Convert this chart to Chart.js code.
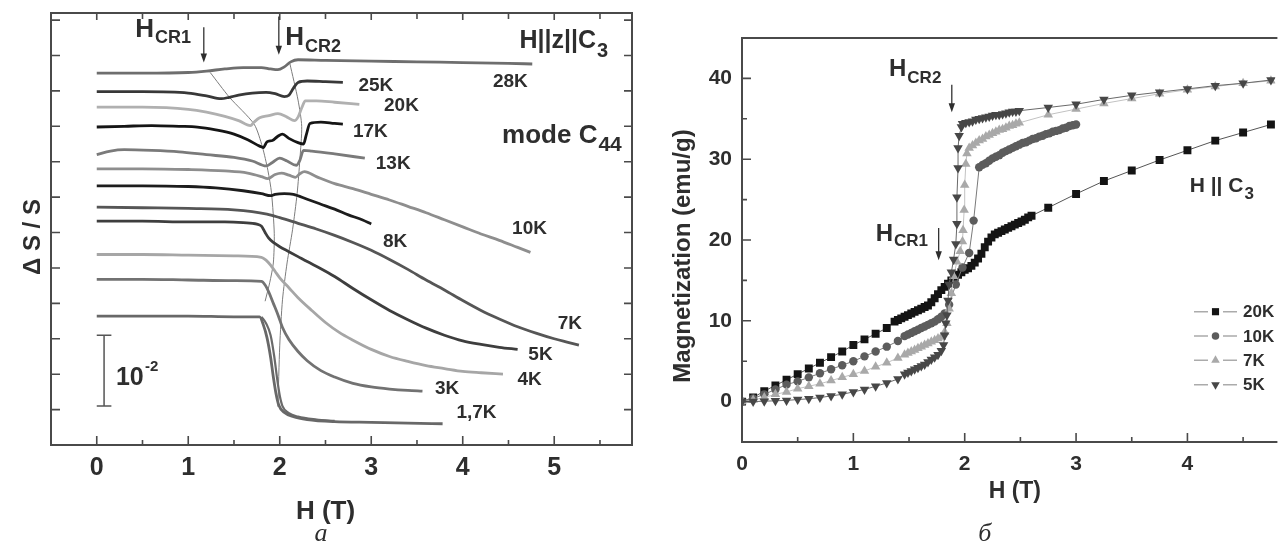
<!DOCTYPE html>
<html>
<head>
<meta charset="utf-8">
<script src="https://cdn.jsdelivr.net/npm/chart.js@4.4.1/dist/chart.umd.min.js"></script>
<style>
  html, body { margin: 0; padding: 0; background: #fff; }
  #wrap { position: relative; width: 1281px; height: 544px; overflow: hidden; }
  .panel { position: absolute; top: 0; height: 544px; }
  #pa { left: 0; width: 640px; }
  #pb { left: 640px; width: 641px; }
</style>
</head>
<body>
<div id="wrap">
  <div class="panel" id="pa"><canvas id="ca" width="640" height="544"></canvas></div>
  <div class="panel" id="pb"><canvas id="cb" width="641" height="544"></canvas></div>
</div>
<script>
// ---------- Panel (a): relative sound velocity change vs field, mode C44 ----------
// x: H (T); y: ΔS/S in units of 1e-3, curves offset vertically
const dS28K = [[0,52.5],[0.5,52.5],[1.0,52.6],[1.2,52.8],[1.4,53.1],[1.6,53.3],[1.8,53.3],[1.9,53.1],[1.98,53.0],[2.05,53.4],[2.12,54.1],[2.2,54.4],[2.5,54.3],[3.0,54.2],[3.5,54.1],[4.0,54.0],[4.5,53.9],[4.76,53.8]];
const dS25K = [[0,49.9],[0.5,49.9],[1.0,49.7],[1.2,49.3],[1.36,48.9],[1.45,49.1],[1.55,49.4],[1.7,49.7],[1.85,49.8],[1.95,49.6],[2.05,49.2],[2.1,49.4],[2.15,50.4],[2.2,51.2],[2.3,51.4],[2.5,51.3],[2.69,51.2]];
const dS20K = [[0,47.7],[0.5,47.7],[1.0,47.4],[1.2,47.0],[1.4,46.4],[1.55,45.8],[1.68,45.1],[1.72,45.6],[1.78,46.2],[1.88,46.5],[1.98,46.8],[2.08,46.3],[2.16,45.8],[2.2,46.3],[2.24,47.6],[2.28,48.6],[2.4,48.6],[2.6,48.4],[2.87,48.1]];
const dS17K = [[0,44.9],[0.3,45.0],[0.6,45.1],[0.9,45.0],[1.1,44.9],[1.3,44.5],[1.5,43.9],[1.65,43.1],[1.78,42.2],[1.82,42.0],[1.86,42.8],[1.92,43.0],[1.98,43.6],[2.03,43.9],[2.1,43.3],[2.2,42.7],[2.26,42.5],[2.29,43.8],[2.33,45.4],[2.45,45.6],[2.6,45.4],[2.69,45.3]];
const dS13K = [[0,41.0],[0.15,41.5],[0.3,41.7],[0.6,41.6],[0.9,41.4],[1.2,41.0],[1.5,40.6],[1.7,40.1],[1.85,39.4],[1.92,39.9],[2.0,40.5],[2.08,40.1],[2.18,39.5],[2.22,40.2],[2.26,41.6],[2.35,41.5],[2.6,41.1],[2.93,40.5]];
const dS10K = [[0,39.0],[0.5,39.0],[1.0,38.9],[1.4,38.7],[1.65,38.4],[1.8,37.9],[1.87,37.6],[1.95,38.2],[2.02,38.4],[2.1,38.1],[2.17,37.8],[2.22,38.3],[2.27,38.6],[2.4,37.9],[2.6,36.9],[2.8,36.2],[3.0,35.4],[3.2,34.6],[3.4,33.7],[3.6,32.8],[3.8,31.8],[4.0,30.8],[4.2,29.8],[4.4,28.9],[4.6,27.9],[4.74,27.2]];
const dS8K  = [[0,36.6],[0.5,36.6],[1.0,36.5],[1.3,36.3],[1.6,35.9],[1.8,35.5],[1.9,35.2],[1.95,35.4],[2.05,35.5],[2.15,35.4],[2.3,34.7],[2.45,34.0],[2.6,33.3],[2.75,32.5],[2.9,31.8],[3.0,31.2]];
const dS7K  = [[0,33.6],[0.5,33.5],[1.0,33.4],[1.5,33.2],[1.86,32.6],[2.0,32.1],[2.2,31.3],[2.4,30.5],[2.6,29.6],[2.8,28.6],[3.0,27.5],[3.2,26.2],[3.4,24.8],[3.6,23.3],[3.8,21.9],[4.0,20.4],[4.2,19.0],[4.4,17.8],[4.6,16.7],[4.8,15.8],[5.0,15.0],[5.15,14.5],[5.27,14.1]];
const dS5K  = [[0,31.6],[0.5,31.6],[1.0,31.5],[1.4,31.5],[1.6,31.4],[1.75,31.2],[1.8,30.9],[1.84,30.0],[1.88,29.2],[1.93,28.6],[2.0,28.0],[2.1,27.3],[2.2,26.6],[2.3,25.9],[2.45,24.9],[2.6,23.8],[2.8,22.1],[3.0,20.5],[3.2,19.0],[3.4,17.7],[3.6,16.5],[3.8,15.5],[4.0,14.7],[4.2,14.2],[4.4,13.8],[4.6,13.5]];
const dS4K  = [[0,26.9],[0.5,26.9],[1.0,26.8],[1.5,26.7],[1.8,26.5],[1.85,26.1],[1.9,25.4],[1.95,24.5],[2.0,23.6],[2.1,22.2],[2.2,20.8],[2.35,19.0],[2.5,17.3],[2.65,15.9],[2.8,14.8],[3.0,13.5],[3.2,12.5],[3.4,11.8],[3.6,11.2],[3.8,10.8],[4.0,10.4],[4.2,10.2],[4.44,10.0]];
const dS3K  = [[0,23.4],[0.5,23.4],[1.0,23.3],[1.5,23.2],[1.8,23.1],[1.84,22.6],[1.88,21.6],[1.93,20.0],[1.98,18.4],[2.03,16.6],[2.1,14.9],[2.2,13.2],[2.3,11.9],[2.45,10.5],[2.6,9.6],[2.8,8.7],[3.0,8.2],[3.2,7.9],[3.4,7.7],[3.56,7.6]];
const dS1_7K   = [[0,18.2],[0.5,18.2],[1.0,18.2],[1.5,18.1],[1.78,18.1],[1.82,17.0],[1.86,15.2],[1.9,12.4],[1.93,9.6],[1.96,7.2],[1.99,5.6],[2.05,4.6],[2.15,4.0],[2.3,3.6],[2.6,3.3],[3.0,3.2],[3.4,3.1],[3.78,3.0]];
const dS1_7Kret = [[1.8,18.1],[1.85,17.2],[1.9,15.5],[1.94,12.5],[1.97,9.5],[2.0,7.0],[2.03,5.5],[2.1,4.5],[2.2,4.0],[2.4,3.6],[2.6,3.4]];
// critical-field guide lines through the anomalies
const lineCR1 = [[1.24,52.6],[1.45,49.1],[1.72,45.3],[1.81,42.1],[1.87,38.8],[1.91,35.6],[1.94,29.9],[1.93,25.7],[1.89,22.9],[1.84,20.3]];
const lineCR2 = [[2.11,53.9],[2.2,48.7],[2.24,45.0],[2.22,40.3],[2.19,35.5],[2.14,30.4],[2.08,25.7],[2.03,20.5],[2.0,14.0],[1.98,5.4]];
const tempLabelsA = ['28K','25K','20K','17K','13K','10K','8K','7K','5K','4K','3K','1,7K'];
const fieldTicksA = [0,1,2,3,4,5];
const fieldMinorA = [0.5,1.5,2.5,3.5,4.5,5.5];
const dsTicks = [5,10,15,20,25,30,35,40,45,50,55,60];
const scaleBar = [5.5, 15.5];   // 1e-2 in ΔS/S

// ---------- Panel (б): magnetization vs field, H || C3 ----------
const m20K = [[0,0],[0.1,0.5],[0.2,1.3],[0.3,2.0],[0.4,2.7],[0.5,3.4],[0.6,4.1],[0.7,4.8],[0.8,5.5],[0.9,6.2],[1.0,7.0],[1.1,7.7],[1.2,8.4],[1.3,9.1],[1.37,9.9],[1.4,10.1],[1.43,10.3],[1.46,10.5],[1.49,10.7],[1.52,10.9],[1.55,11.1],[1.58,11.3],[1.61,11.5],[1.64,11.7],[1.67,11.9],[1.70,12.3],[1.73,12.8],[1.76,13.3],[1.79,13.8],[1.82,14.2],[1.85,14.6],[1.88,15.0],[1.91,15.4],[1.94,15.7],[1.97,16.0],[2.0,16.3],[2.03,16.5],[2.06,16.8],[2.09,17.2],[2.12,17.7],[2.15,18.3],[2.18,19.1],[2.21,19.8],[2.24,20.3],[2.27,20.7],[2.30,20.9],[2.33,21.1],[2.36,21.3],[2.39,21.5],[2.42,21.7],[2.45,21.9],[2.48,22.1],[2.51,22.3],[2.54,22.5],[2.57,22.8],[2.60,23.0],[2.75,24.0],[3.0,25.7],[3.25,27.3],[3.5,28.6],[3.75,29.9],[4.0,31.1],[4.25,32.3],[4.5,33.3],[4.75,34.3]];
const m10K = [[0,0],[0.1,0.4],[0.2,0.9],[0.3,1.5],[0.4,2.1],[0.5,2.5],[0.6,3.0],[0.7,3.5],[0.8,4.0],[0.9,4.5],[1.0,5.0],[1.1,5.6],[1.2,6.2],[1.3,6.8],[1.4,7.5],[1.46,8.1],[1.49,8.3],[1.52,8.5],[1.55,8.7],[1.58,8.9],[1.61,9.1],[1.64,9.3],[1.67,9.5],[1.70,9.7],[1.73,9.9],[1.76,10.2],[1.79,10.5],[1.82,10.9],[1.86,12.0],[1.92,14.5],[1.98,16.6],[2.04,18.4],[2.08,22.4],[2.13,29.0],[2.16,29.3],[2.19,29.5],[2.22,29.8],[2.25,30.1],[2.28,30.3],[2.31,30.5],[2.34,30.8],[2.37,31.0],[2.40,31.2],[2.43,31.4],[2.46,31.6],[2.49,31.8],[2.52,32.0],[2.55,32.1],[2.58,32.3],[2.61,32.5],[2.64,32.6],[2.67,32.8],[2.70,32.9],[2.73,33.1],[2.76,33.2],[2.79,33.4],[2.82,33.5],[2.85,33.6],[2.88,33.8],[2.91,33.9],[2.94,34.1],[2.97,34.2],[3.0,34.3]];
const m7K = [[0,0],[0.1,0.2],[0.2,0.5],[0.3,0.9],[0.4,1.2],[0.5,1.6],[0.6,1.9],[0.7,2.2],[0.8,2.6],[0.9,3.0],[1.0,3.4],[1.1,3.8],[1.2,4.3],[1.3,4.8],[1.4,5.4],[1.46,5.8],[1.49,6.0],[1.52,6.2],[1.55,6.4],[1.58,6.6],[1.61,6.8],[1.64,7.0],[1.67,7.2],[1.70,7.4],[1.73,7.6],[1.76,7.8],[1.79,8.0],[1.82,8.6],[1.84,9.7],[1.86,11.5],[1.88,13.4],[1.90,15.5],[1.93,17.3],[1.96,18.6],[1.98,19.8],[1.985,21.2],[1.995,23.7],[2.0,26.8],[2.01,29.4],[2.02,30.7],[2.04,31.4],[2.07,31.7],[2.10,32.0],[2.13,32.3],[2.16,32.5],[2.19,32.8],[2.22,33.0],[2.25,33.2],[2.28,33.4],[2.31,33.6],[2.34,33.7],[2.37,33.9],[2.40,34.1],[2.43,34.2],[2.46,34.4],[2.49,34.5],[2.75,35.5],[3.0,36.2],[3.25,36.9],[3.5,37.5],[3.75,38.1],[4.0,38.6],[4.25,39.0],[4.5,39.4],[4.75,39.7]];
const m5K = [[0,0],[0.1,0.0],[0.2,0.05],[0.3,0.1],[0.4,0.15],[0.5,0.25],[0.6,0.35],[0.7,0.5],[0.8,0.7],[0.9,0.9],[1.0,1.2],[1.1,1.5],[1.2,1.9],[1.3,2.3],[1.4,2.8],[1.46,3.4],[1.49,3.6],[1.52,3.8],[1.55,4.0],[1.58,4.2],[1.61,4.4],[1.64,4.6],[1.67,4.9],[1.70,5.2],[1.73,5.5],[1.76,5.8],[1.79,6.3],[1.81,7.0],[1.82,8.2],[1.83,9.7],[1.84,10.7],[1.85,12.5],[1.86,14.5],[1.88,16.0],[1.90,17.6],[1.92,19.5],[1.93,22.0],[1.93,25.3],[1.94,28.9],[1.94,31.4],[1.95,32.9],[1.97,34.0],[1.98,34.4],[2.01,34.5],[2.04,34.6],[2.07,34.7],[2.10,34.9],[2.13,35.0],[2.16,35.1],[2.19,35.2],[2.22,35.3],[2.25,35.4],[2.28,35.5],[2.31,35.5],[2.34,35.6],[2.37,35.7],[2.40,35.8],[2.43,35.9],[2.46,35.9],[2.49,36.0],[2.75,36.4],[3.0,36.8],[3.25,37.4],[3.5,37.9],[3.75,38.3],[4.0,38.7],[4.25,39.1],[4.5,39.4],[4.75,39.8]];
const tempLabelsB = ['20K','10K','7K','5K'];
const fieldTicksB = [0,1,2,3,4];
const fieldMinorB = [0.5,1.5,2.5,3.5,4.5];
const magTicks = [0,10,20,30,40];
const magMinor = [5,15,25,35];

// ---------- shared drawing helpers ----------
const FONT = "'Liberation Sans', Arial, Helvetica, sans-serif";
const INK = '#2e2e2e';
const FRAME = '#4a4a4a';
const xy = arr => arr.map(p => ({ x: p[0], y: p[1] }));

function text(ctx, s, x, y, px, align, base, italicSerif) {
  ctx.font = italicSerif ? `italic ${px}px 'Liberation Serif', 'DejaVu Serif', serif` : `bold ${px}px ${FONT}`;
  ctx.textAlign = align || 'left';
  ctx.textBaseline = base || 'alphabetic';
  ctx.fillText(s, x, y);
}
function subText(ctx, x, y, main, sub, mainPx, subPx, drop) {
  text(ctx, main, x, y, mainPx);
  const w = ctx.measureText(main).width;
  text(ctx, sub, x + w + 1, y + drop, subPx);
}
function arrowDown(ctx, x, y1, y2) {
  ctx.lineWidth = 1.3;
  ctx.beginPath(); ctx.moveTo(x, y1); ctx.lineTo(x, y2 - 6); ctx.stroke();
  ctx.beginPath(); ctx.moveTo(x - 3.2, y2 - 9); ctx.lineTo(x + 3.2, y2 - 9); ctx.lineTo(x, y2); ctx.closePath(); ctx.fill();
}

// ---------- panel (a) ----------
const curveStyleA = [
  ['#6e6e6e', dS28K], ['#383838', dS25K], ['#b0b0b0', dS20K], ['#151515', dS17K],
  ['#7a7a7a', dS13K], ['#8e8e8e', dS10K], ['#1d1d1d', dS8K], ['#565656', dS7K],
  ['#3e3e3e', dS5K], ['#a6a6a6', dS4K], ['#727272', dS3K], ['#686868', dS1_7K]
];
const datasetsA = curveStyleA.map((c, i) => ({
  label: tempLabelsA[i], data: xy(c[1]), borderColor: c[0], borderWidth: 2.8,
  pointRadius: 0, cubicInterpolationMode: 'monotone', fill: false
}));
datasetsA.push({ label: '1,7K return', data: xy(dS1_7Kret), borderColor: '#6a6a6a', borderWidth: 2.2, pointRadius: 0, cubicInterpolationMode: 'monotone', fill: false });
datasetsA.push({ label: 'HCR1', data: xy(lineCR1), borderColor: '#7c7c7c', borderWidth: 1, pointRadius: 0, tension: 0.25, fill: false });
datasetsA.push({ label: 'HCR2', data: xy(lineCR2), borderColor: '#7c7c7c', borderWidth: 1, pointRadius: 0, tension: 0.25, fill: false });

// label anchor points (H, ΔS/S) for each temperature
const labelAtA = {
  '28K': [4.52, 51.3], '25K': [3.05, 50.7], '20K': [3.33, 47.9], '17K': [2.99, 44.2],
  '13K': [3.24, 39.7], '10K': [4.73, 30.6], '8K': [3.26, 28.7], '7K': [5.17, 17.1],
  '5K': [4.85, 12.7], '4K': [4.73, 9.2], '3K': [3.83, 7.9], '1,7K': [4.15, 4.5]
};

const decorA = {
  id: 'decorA',
  afterDraw(chart) {
    const { ctx, chartArea: a, scales: { x, y } } = chart;
    const px = h => x.getPixelForValue(h), py = v => y.getPixelForValue(v);
    ctx.save();
    ctx.strokeStyle = FRAME; ctx.fillStyle = INK;
    ctx.lineWidth = 2;
    ctx.strokeRect(a.left, a.top, a.right - a.left, a.bottom - a.top);
    ctx.lineWidth = 1.6;
    ctx.beginPath();
    fieldTicksA.forEach(h => { ctx.moveTo(px(h), a.bottom); ctx.lineTo(px(h), a.bottom - 9); ctx.moveTo(px(h), a.top); ctx.lineTo(px(h), a.top + 7); });
    fieldMinorA.forEach(h => { ctx.moveTo(px(h), a.bottom); ctx.lineTo(px(h), a.bottom - 5); ctx.moveTo(px(h), a.top); ctx.lineTo(px(h), a.top + 6); });
    dsTicks.forEach(v => { ctx.moveTo(a.left, py(v)); ctx.lineTo(a.left + 9, py(v)); ctx.moveTo(a.right, py(v)); ctx.lineTo(a.right - 8, py(v)); });
    ctx.stroke();

    // tick labels and axis titles
    fieldTicksA.forEach(h => text(ctx, String(h), px(h), a.bottom + 23, 25, 'center', 'middle'));
    text(ctx, 'H (T)', px(2.5), a.bottom + 67, 26, 'center', 'middle');
    ctx.save(); ctx.translate(33, 237); ctx.rotate(-Math.PI / 2);
    text(ctx, 'Δ S / S', 0, 0, 24, 'center', 'middle'); ctx.restore();
    text(ctx, 'а', px(2.45), 541, 26, 'center', 'alphabetic', true);

    // scale bar 1e-2
    ctx.strokeStyle = '#555'; ctx.lineWidth = 1.5;
    ctx.beginPath();
    ctx.moveTo(px(0.08), py(scaleBar[0])); ctx.lineTo(px(0.08), py(scaleBar[1]));
    ctx.moveTo(px(0.0), py(scaleBar[0])); ctx.lineTo(px(0.16), py(scaleBar[0]));
    ctx.moveTo(px(0.0), py(scaleBar[1])); ctx.lineTo(px(0.16), py(scaleBar[1]));
    ctx.stroke();
    text(ctx, '10', px(0.21), py(8.5), 25);
    text(ctx, '-2', px(0.21) + 29, py(10.4), 15);

    // temperature labels
    tempLabelsA.forEach(t => text(ctx, t, px(labelAtA[t][0]), py(labelAtA[t][1]), 19, 'center', 'middle'));

    // critical fields and configuration
    ctx.strokeStyle = '#333';
    subText(ctx, px(0.42), py(57.6), 'H', 'CR1', 26, 18, 6);
    arrowDown(ctx, px(1.17), py(59.0), py(54.0));
    subText(ctx, px(2.06), py(56.5), 'H', 'CR2', 26, 18, 7);
    arrowDown(ctx, px(1.99), py(60.5), py(55.1));
    subText(ctx, px(4.62), py(56.1), 'H||z||C', '3', 25, 20, 9);
    subText(ctx, px(4.43), py(42.7), 'mode C', '44', 26, 21, 8);
    ctx.restore();
  }
};

new Chart(document.getElementById('ca'), {
  type: 'line',
  data: { datasets: datasetsA },
  options: {
    responsive: false, animation: false, events: [],
    layout: { padding: { left: 51, right: 8, top: 13, bottom: 99 } },
    plugins: { legend: { display: false }, tooltip: { enabled: false } },
    scales: {
      x: { type: 'linear', min: -0.5, max: 5.85, display: false },
      y: { type: 'linear', min: 0, max: 61, display: false }
    }
  },
  plugins: [decorA]
});

// ---------- panel (б) ----------
const seriesB = [
  { data: m5K,  mark: '#474747', line: '#6a6a6a', style: 'triangle', rot: 180, r: 5.5 },
  { data: m7K,  mark: '#a9a9a9', line: '#c2c2c2', style: 'triangle', rot: 0,   r: 5.5 },
  { data: m10K, mark: '#5c5c5c', line: '#7a7a7a', style: 'circle',   rot: 0,   r: 4.2 },
  { data: m20K, mark: '#141414', line: '#555555', style: 'rect',     rot: 0,   r: 5.6 }
];
const seriesLabelB = { m5K: '5K', m7K: '7K', m10K: '10K', m20K: '20K' };
const datasetsB = seriesB.map((s, i) => ({
  label: tempLabelsB[3 - i], data: xy(s.data), showLine: true, borderColor: s.line, borderWidth: 1,
  tension: 0, pointStyle: s.style, pointRotation: s.rot, pointRadius: s.r,
  pointBackgroundColor: s.mark, pointBorderWidth: 0, fill: false
}));

const decorB = {
  id: 'decorB',
  afterDraw(chart) {
    const { ctx, chartArea: a, scales: { x, y } } = chart;
    const px = h => x.getPixelForValue(h), py = v => y.getPixelForValue(v);
    ctx.save();
    ctx.strokeStyle = FRAME; ctx.fillStyle = INK;
    ctx.lineWidth = 2;
    ctx.beginPath();
    ctx.moveTo(a.right + 2, a.top); ctx.lineTo(a.left, a.top); ctx.lineTo(a.left, a.bottom); ctx.lineTo(a.right + 2, a.bottom);
    ctx.stroke();
    ctx.lineWidth = 1.6;
    ctx.beginPath();
    fieldTicksB.forEach(h => { ctx.moveTo(px(h), a.bottom); ctx.lineTo(px(h), a.bottom - 9); });
    fieldMinorB.forEach(h => { ctx.moveTo(px(h), a.bottom); ctx.lineTo(px(h), a.bottom - 5); });
    magTicks.forEach(v => { ctx.moveTo(a.left, py(v)); ctx.lineTo(a.left + 9, py(v)); });
    magMinor.forEach(v => { ctx.moveTo(a.left, py(v)); ctx.lineTo(a.left + 5, py(v)); });
    ctx.stroke();

    fieldTicksB.forEach(h => text(ctx, String(h), px(h), a.bottom + 22, 21, 'center', 'middle'));
    magTicks.forEach(v => text(ctx, String(v), a.left - 10, py(v), 21, 'right', 'middle'));
    text(ctx, 'H (T)', px(2.45), a.bottom + 50, 23, 'center', 'middle');
    ctx.save(); ctx.translate(43, 256); ctx.rotate(-Math.PI / 2);
    text(ctx, 'Magnetization (emu/g)', 0, 0, 24, 'center', 'middle'); ctx.restore();
    text(ctx, 'б', px(2.18), 541, 26, 'center', 'alphabetic', true);

    ctx.strokeStyle = '#333';
    subText(ctx, px(1.32), py(40.3), 'H', 'CR2', 24, 17, 7);
    arrowDown(ctx, px(1.884), py(39.2), py(35.8));
    subText(ctx, px(1.2), py(19.9), 'H', 'CR1', 24, 17, 5);
    arrowDown(ctx, px(1.766), py(21.5), py(17.5));
    subText(ctx, px(4.02), py(25.9), 'H || C', '3', 21, 17, 7);

    // legend
    const rows = [311.7, 336, 360.3, 384.7];
    const order = [3, 2, 1, 0];
    order.forEach((k, i) => {
      const s = seriesB[k], ly = rows[i];
      ctx.strokeStyle = '#ababab'; ctx.lineWidth = 1.4;
      ctx.beginPath();
      ctx.moveTo(554, ly); ctx.lineTo(568, ly);
      ctx.moveTo(583, ly); ctx.lineTo(597, ly);
      ctx.stroke();
      ctx.fillStyle = s.mark;
      Chart.helpers.drawPoint(ctx, { pointStyle: s.style, rotation: s.rot, radius: s.r * 0.9, borderWidth: 0 }, 575.5, ly);
      ctx.fillStyle = INK;
      text(ctx, tempLabelsB[i], 603, ly + 1, 17, 'left', 'middle');
    });
    ctx.restore();
  }
};

new Chart(document.getElementById('cb'), {
  type: 'line',
  data: { datasets: datasetsB },
  options: {
    responsive: false, animation: false, events: [],
    layout: { padding: { left: 102, right: 0, top: 38, bottom: 102 } },
    plugins: { legend: { display: false }, tooltip: { enabled: false } },
    scales: {
      x: { type: 'linear', min: 0, max: 4.79, display: false },
      y: { type: 'linear', min: -5, max: 45, display: false }
    }
  },
  plugins: [decorB]
});
</script>
</body>
</html>
